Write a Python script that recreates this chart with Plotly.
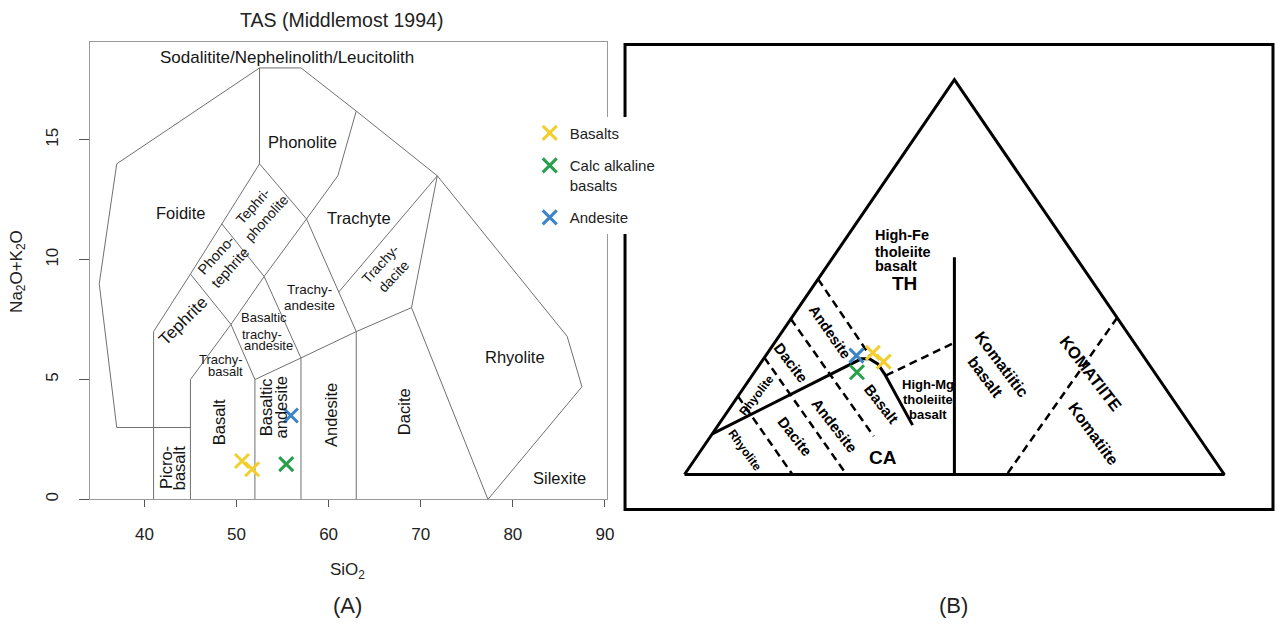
import plotly.graph_objects as go

FONT = "Liberation Sans, Arial, sans-serif"

# ---------------- TAS (Middlemost 1994) field boundaries: (SiO2, Na2O+K2O) ----------------
tas_outer = [(45, 3), (37, 3), (35.1, 9), (37, 14), (52.5, 18), (57, 18), (63, 16.2),
             (71.8, 13.5), (85.9, 6.8), (87.5, 4.7), (77.3, 0)]
tas_foidite_edge = [(41, 0), (41, 7), (45, 9.4), (48.4, 11.5), (52.5, 14), (52.5, 18)]
tas_alkaline_line = [(45, 0), (45, 5), (49.4, 7.3), (53, 9.3), (57.6, 11.7), (61, 13.5), (63, 16.2)]
tas_subalk_top = [(52, 0), (52, 5), (57, 5.9), (63, 7), (69, 8), (77.3, 0)]
tas_andesite_left = [(57, 0), (57, 5.9)]
tas_dacite_left = [(63, 0), (63, 7)]
tas_phonotephrite_low = [(45, 9.4), (49.4, 7.3), (52, 5)]
tas_tephriphonolite_low = [(48.4, 11.5), (53, 9.3), (57, 5.9)]
tas_phonolite_low = [(52.5, 14), (57.6, 11.7), (63, 7)]
tas_trachydacite = [(61.1, 8.65), (71.8, 13.5), (69, 8)]
tas_lines = [tas_outer, tas_foidite_edge, tas_alkaline_line, tas_subalk_top, tas_andesite_left,
             tas_dacite_left, tas_phonotephrite_low, tas_tephriphonolite_low, tas_phonolite_low,
             tas_trachydacite]

# ---------------- samples on TAS ----------------
series_names = ["Basalts", "Calc alkaline<br>basalts", "Andesite"]
series_colors = ["#F2CF2E", "#27A04C", "#3B84C6"]
tas_sio2 = [[50.6, 51.7], [55.4], [55.9]]
tas_alk = [[1.6, 1.26], [1.47], [3.5]]

# ---------------- Jensen cation plot, compositions (Al2O3, Fe2O3+TiO2, MgO) % ----------------
jen_triangle = [(100, 0, 0), (0, 100, 0), (0, 0, 100), (100, 0, 0)]
jen_vertical = [(50, 0, 50), (22.5, 55, 22.5)]
jen_ca_th = [(89.7, 10.3, 0), (52.6, 29.3, 18.1), (51.1, 29.3, 19.6), (50.2, 28.0, 21.8),
             (50.2, 25.5, 24.3), (51.5, 12.5, 36.0)]
jen_solid = [jen_triangle, jen_vertical, jen_ca_th]
jen_dashed = [
    [(50.5, 49.5, 0), (50.6, 30.0, 19.4)],
    [(60.6, 39.4, 0), (60.1, 9.7, 30.2)],
    [(70.4, 29.6, 0), (70, 0, 30)],
    [(80.2, 19.8, 0), (80, 0, 20)],
    [(50.1, 25.1, 24.8), (33.3, 33.4, 33.3)],
    [(0, 39.7, 60.3), (40.3, 0, 59.7)],
]
jen_al = [[49.7, 48.8], [55.1], [53.1]]
jen_fe = [[30.8, 28.6], [25.9], [30.1]]
jen_mg = [[19.5, 22.6], [19.0], [16.8]]

tas_ticks = [40, 50, 60, 70, 80, 90]
tas_yticks = [0, 5, 10, 15]


def tern_xy(al, fe, mg):
    s = al + fe + mg
    return (mg + fe / 2.0) / s, fe / s


def tern_line(pts):
    xs, ys = [], []
    for a, f, m in pts:
        x, y = tern_xy(a, f, m)
        xs.append(x)
        ys.append(y)
    return xs, ys


fig = go.Figure()

for ln in tas_lines:
    fig.add_trace(go.Scatter(x=[p[0] for p in ln], y=[p[1] for p in ln], mode="lines",
                             line=dict(color="#707070", width=1), hoverinfo="skip",
                             showlegend=False, xaxis="x", yaxis="y"))

for ln in jen_solid:
    xs, ys = tern_line(ln)
    fig.add_trace(go.Scatter(x=xs, y=ys, mode="lines", line=dict(color="black", width=3),
                             hoverinfo="skip", showlegend=False, xaxis="x2", yaxis="y2"))
for ln in jen_dashed:
    xs, ys = tern_line(ln)
    fig.add_trace(go.Scatter(x=xs, y=ys, mode="lines",
                             line=dict(color="black", width=2.5, dash="8px,5px"),
                             hoverinfo="skip", showlegend=False, xaxis="x2", yaxis="y2"))

for i, name in enumerate(series_names):
    c = series_colors[i]
    mk = dict(symbol="x-thin", size=14, color=c, line=dict(width=3, color=c))
    fig.add_trace(go.Scatter(x=tas_sio2[i], y=tas_alk[i], mode="markers", name=name,
                             marker=mk, legendgroup=name, xaxis="x", yaxis="y"))
    xs, ys = [], []
    for a, f, m in zip(jen_al[i], jen_fe[i], jen_mg[i]):
        x, y = tern_xy(a, f, m)
        xs.append(x)
        ys.append(y)
    fig.add_trace(go.Scatter(x=xs, y=ys, mode="markers", name=name, marker=mk,
                             legendgroup=name, showlegend=False, xaxis="x2", yaxis="y2"))

ann = []
tas_labels = [
    ("Sodalitite/Nephelinolith/Leucitolith", 55.5, 18.44, 17, 0),
    ("Phonolite", 57.13, 14.91, 16.5, 0),
    ("Foidite", 43.96, 11.94, 16.5, 0),
    ("Trachyte", 63.33, 11.76, 16.5, 0),
    ("Tephri-<br>phonolite", 52.5, 12.0, 14, -48),
    ("Phono-<br>tephrite", 48.54, 9.93, 14.5, -48),
    ("Trachy-<br>dacite", 66.3, 9.59, 14, -47),
    ("Trachy-", 57.96, 8.76, 13.5, 0),
    ("andesite", 57.92, 8.07, 13.5, 0),
    ("Tephrite", 44.14, 7.44, 17, -45),
    ("Basaltic", 52.94, 7.58, 13, 0),
    ("trachy-", 52.72, 6.89, 13, 0),
    ("andesite", 53.52, 6.41, 13, 0),
    ("Trachy-", 48.32, 5.85, 13, 0),
    ("basalt", 48.76, 5.33, 13, 0),
    ("Rhyolite", 80.24, 5.96, 16.5, 0),
    ("Basalt", 48.1, 3.22, 16.5, -90),
    ("Basaltic", 53.16, 3.83, 16.5, -90),
    ("andesite", 54.79, 3.82, 16.5, -90),
    ("Andesite", 60.21, 3.5, 16.5, -90),
    ("Dacite", 68.26, 3.67, 16.5, -90),
    ("Picro-", 42.37, 1.32, 16.5, -90),
    ("basalt", 43.7, 1.32, 16.5, -90),
    ("Silexite", 85.08, 0.89, 16.5, 0),
]
for t, x, y, s, a in tas_labels:
    ann.append(dict(text=t, x=x, y=y, xref="x", yref="y", showarrow=False, textangle=a,
                    xanchor="center", yanchor="middle",
                    font=dict(size=s, color="#151515", family=FONT)))

jen_labels = [
    ("Fe<sub>2</sub>O<sub>3</sub>+TiO<sub>2</sub>", 0.488, 1.034, 19, 0),
    ("<b>Al<sub>2</sub>O<sub>3</sub></b>", -0.038, -0.015, 18, 0),
    ("<b>MgO</b>", 1.038, -0.035, 19, 0),
    ("<b>TH</b>", 0.408, 0.485, 19, 0),
    ("<b>CA</b>", 0.3673, 0.0422, 19, 0),
    ("<b>High-Mg</b>", 0.4514, 0.227, 13, 0),
    ("<b>tholeiite</b>", 0.4514, 0.189, 13, 0),
    ("<b>basalt</b>", 0.4514, 0.153, 13, 0),
    ("<b>Andesite</b>", 0.2692, 0.3604, 14.5, 55),
    ("<b>Dacite</b>", 0.1974, 0.2846, 15, 53),
    ("<b>Rhyolite</b>", 0.1342, 0.2003, 12, -52),
    ("<b>Rhyolite</b>", 0.1114, 0.0614, 12, 54),
    ("<b>Dacite</b>", 0.2047, 0.0952, 15, 52),
    ("<b>Andesite</b>", 0.2784, 0.1245, 15, 52),
    ("<b>Basalt</b>", 0.3643, 0.1793, 15, 52),
    ("<b>Komatiitic<br>basalt</b>", 0.5729, 0.2634, 16, 53),
    ("<b>KOMATIITE</b>", 0.7539, 0.2551, 16.5, 52.5),
    ("<b>Komatiite</b>", 0.757, 0.1035, 16, 54),
]
for t, x, y, s, a in jen_labels:
    ann.append(dict(text=t, x=x, y=y, xref="x2", yref="y2", showarrow=False, textangle=a,
                    xanchor="center", yanchor="middle",
                    font=dict(size=s, color="black", family=FONT)))
hf_lines = [("<b>High-Fe</b>", 0.606), ("<b>tholeiite</b>", 0.5624), ("<b>basalt</b>", 0.527)]
for t, y in hf_lines:
    ann.append(dict(text=t, x=0.350, y=y, xref="x2", yref="y2", showarrow=False,
                    xanchor="left", yanchor="middle",
                    font=dict(size=14.5, color="black", family=FONT)))

# titles and panel labels
paper_texts = [
    ("TAS (Middlemost 1994)", 0.2683, 0.968, 19.5, 0),
    ("SiO<sub>2</sub>", 0.273, 0.0876, 17, 0),
    ("Na<sub>2</sub>O+K<sub>2</sub>O", 0.014, 0.567, 17, -90),
    ("(A)", 0.273, 0.0334, 22, 0),
    ("(B)", 0.7488, 0.0334, 22, 0),
]
for t, x, y, s, a in paper_texts:
    ann.append(dict(text=t, x=x, y=y, xref="paper", yref="paper", showarrow=False,
                    textangle=a, xanchor="center", yanchor="middle",
                    font=dict(size=s, color="#222", family=FONT)))

fig.update_layout(
    autosize=True, margin=dict(l=0, r=0, t=0, b=0),
    paper_bgcolor="white", plot_bgcolor="white",
    font=dict(family=FONT, color="#222"),
    annotations=ann,
    shapes=[dict(type="rect", xref="paper", yref="paper", x0=0.4906, x1=0.9992,
                 y0=0.1863, y1=0.9291, line=dict(color="black", width=3))],
    xaxis=dict(domain=[0.07067, 0.47629], range=[34.1, 90.2], tickvals=tas_ticks,
               ticks="outside", ticklen=7, tickcolor="#555", showline=True, mirror=True,
               linecolor="#9a9a9a", linewidth=1, showgrid=False, zeroline=False,
               tickfont=dict(size=17, color="#222"), ticklabelstandoff=12, anchor="y"),
    yaxis=dict(domain=[0.20223, 0.93360], range=[0, 19.1], tickvals=tas_yticks,
               ticks="outside", ticklen=10, tickcolor="#555", showline=True, mirror=True,
               linecolor="#9a9a9a", linewidth=1, showgrid=False, zeroline=False,
               tickangle=-90, tickfont=dict(size=17, color="#222"), ticklabelstandoff=14,
               anchor="x"),
    xaxis2=dict(domain=[0.52457, 0.97371], range=[-0.03, 1.03], visible=False, anchor="y2"),
    yaxis2=dict(domain=[0.22309, 0.89156], range=[-0.03, 1.03], visible=False, anchor="x2"),
    legend=dict(x=0.4158, y=0.8137, xanchor="left", yanchor="top", bgcolor="white",
                font=dict(size=15, color="#222", family=FONT), tracegroupgap=10,
                valign="top"),
)

fig.write_html(
    "out.html",
    default_width="100vw",
    default_height="100vh",
    config={"displayModeBar": False, "responsive": True},
    post_script=("document.body.style.margin='0';document.body.style.overflow='hidden';"
                 "document.documentElement.style.overflow='hidden';"),
)
